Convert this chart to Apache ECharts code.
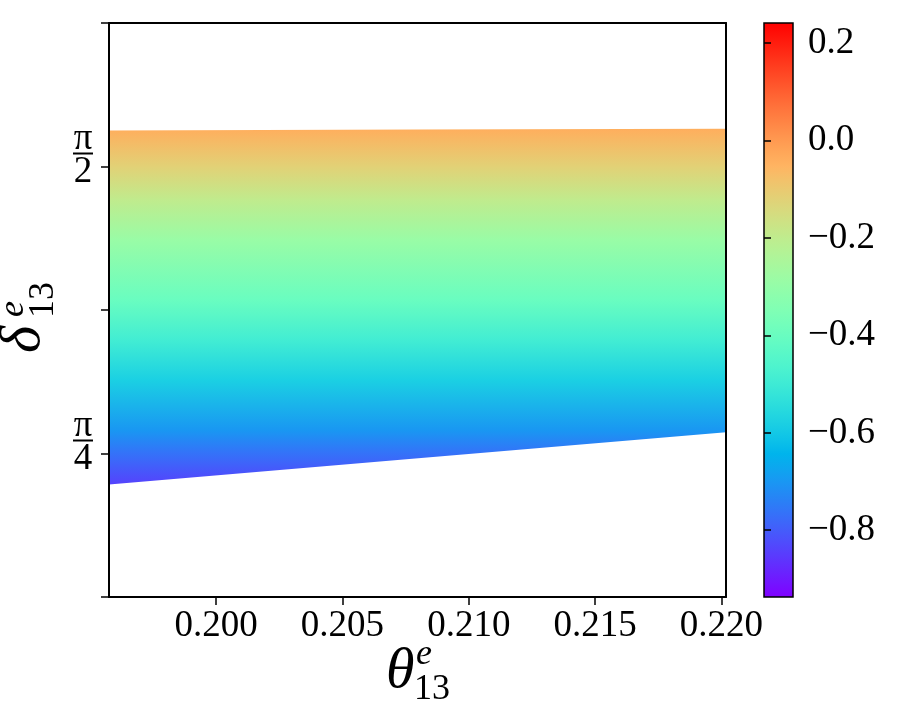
<!DOCTYPE html>
<html>
<head>
<meta charset="utf-8">
<script src="https://cdn.jsdelivr.net/npm/echarts@6/dist/echarts.min.js"></script>
<style>
  html, body { margin: 0; padding: 0; background: #fff; }
  #chart { width: 900px; height: 720px; }
</style>
</head>
<body>
<div id="chart"></div>
<script>
// region boundaries, delta in units of pi
const thetaEdge = [0.19576, 0.2080, 0.22018];
const deltaUpper = [0.5314, 0.5322, 0.5329];
const deltaLower = [0.2230, 0.2458, 0.2686];

// colour value read at several delta levels
const colourDelta = [0.5329, 0.5, 0.471, 0.4361, 0.3837, 0.3488, 0.314, 0.2703, 0.2511, 0.2223];
const colourValue = [-0.04, -0.12, -0.20, -0.29, -0.40, -0.49, -0.58, -0.70, -0.76, -0.84];

const xTicks = [0.200, 0.205, 0.210, 0.215, 0.220];
const yTicks = [0.125, 0.25, 0.375, 0.5, 0.625];
const cbTicks = [-0.8, -0.6, -0.4, -0.2, 0.0, 0.2];
const cbMin = -0.937;
const cbMax = 0.241;

const serif = '"Liberation Serif", "DejaVu Serif", serif';

// matplotlib "rainbow"
function rainbow(t) {
  t = Math.max(0, Math.min(1, t));
  const r = Math.min(1, Math.abs(2 * t - 0.5));
  const g = Math.sin(Math.PI * t);
  const b = Math.cos(Math.PI * t / 2);
  return 'rgb(' + Math.round(r * 255) + ',' + Math.round(g * 255) + ',' + Math.round(b * 255) + ')';
}

let chart = echarts.init(document.getElementById('chart'));

const axisFont = { fontFamily: serif, fontSize: 37, color: '#000' };

chart.setOption({
  animation: false,
  grid: [
    { left: 109, right: 174, top: 23, bottom: 123 },
    { left: 764, width: 29, top: 23, bottom: 123 }
  ],
  xAxis: [
    {
      gridIndex: 0, type: 'value', min: thetaEdge[0], max: thetaEdge[2], z: 10,
      axisLine: { lineStyle: { color: '#000', width: 2 } },
      axisTick: { customValues: xTicks, length: 8, lineStyle: { color: '#000', width: 1.5 } },
      axisLabel: Object.assign({ customValues: xTicks, margin: 11, formatter: v => v.toFixed(3) }, axisFont),
      splitLine: { show: false }
    },
    {
      gridIndex: 0, type: 'value', position: 'top', min: thetaEdge[0], max: thetaEdge[2], z: 10,
      axisLine: { lineStyle: { color: '#000', width: 2 } },
      axisTick: { show: false }, axisLabel: { show: false }, splitLine: { show: false }
    },
    { gridIndex: 1, type: 'value', min: 0, max: 1, show: false }
  ],
  yAxis: [
    {
      gridIndex: 0, type: 'value', min: yTicks[0], max: yTicks[4], interval: 0.125, z: 10,
      axisLine: { lineStyle: { color: '#000', width: 2 } },
      axisTick: { length: 8, lineStyle: { color: '#000', width: 1.5 } },
      axisLabel: {
        margin: 26, align: 'center', padding: [0, 0, 16, 0],
        formatter: function (v) {
          if (Math.abs(v - 0.5) < 1e-6) return '{n|π}\n{b| }\n{d|2}';
          if (Math.abs(v - 0.25) < 1e-6) return '{n|π}\n{b| }\n{d|4}';
          return '';
        },
        rich: {
          n: { fontFamily: serif, fontSize: 37, lineHeight: 22, color: '#000', align: 'center' },
          b: { width: 20, height: 2, lineHeight: 6, fontSize: 2, backgroundColor: '#000', align: 'center' },
          d: { fontFamily: serif, fontSize: 37, lineHeight: 32, color: '#000', align: 'center' }
        }
      },
      splitLine: { show: false }
    },
    {
      gridIndex: 0, type: 'value', position: 'right', min: yTicks[0], max: yTicks[4], z: 10,
      axisLine: { show: true, lineStyle: { color: '#000', width: 2 } },
      axisTick: { show: false }, axisLabel: { show: false }, splitLine: { show: false }
    },
    {
      gridIndex: 1, type: 'value', position: 'right', min: cbMin, max: cbMax, z: 10,
      axisLine: { show: false },
      axisTick: { show: true, customValues: cbTicks, length: 7, lineStyle: { color: '#000', width: 1.5 } },
      axisLabel: Object.assign({
        customValues: cbTicks, margin: 15,
        formatter: v => (v < -1e-9 ? '\u2212' : '') + Math.abs(v).toFixed(1)
      }, axisFont),
      splitLine: { show: false }
    }
  ],
  series: [
    {
      type: 'custom',
      xAxisIndex: 0, yAxisIndex: 0,
      data: [[thetaEdge[0], deltaUpper[0]]],
      renderItem: function (params, api) {
        const pts = [];
        for (let i = 0; i < thetaEdge.length; i++) pts.push(api.coord([thetaEdge[i], deltaUpper[i]]));
        for (let i = thetaEdge.length - 1; i >= 0; i--) pts.push(api.coord([thetaEdge[i], deltaLower[i]]));
        const ys = colourDelta.map(d => api.coord([thetaEdge[0], d])[1]);
        const y0 = ys[0], y1 = ys[ys.length - 1];
        const stops = colourDelta.map((d, i) => ({
          offset: (ys[i] - y0) / (y1 - y0),
          color: rainbow((colourValue[i] - cbMin) / (cbMax - cbMin))
        }));
        return {
          type: 'polygon',
          shape: { points: pts },
          style: { fill: new echarts.graphic.LinearGradient(0, y0, 0, y1, stops, true) }
        };
      }
    },
    {
      type: 'custom',
      xAxisIndex: 2, yAxisIndex: 2,
      data: [[0, cbMin]],
      renderItem: function (params, api) {
        const p0 = api.coord([0, cbMax]);
        const p1 = api.coord([1, cbMin]);
        const stops = [];
        for (let k = 0; k <= 40; k++) stops.push({ offset: k / 40, color: rainbow(1 - k / 40) });
        return {
          type: 'rect',
          shape: { x: p0[0], y: p0[1], width: p1[0] - p0[0], height: p1[1] - p0[1] },
          style: { fill: new echarts.graphic.LinearGradient(0, 0, 0, 1, stops), stroke: '#000', lineWidth: 1.5 }
        };
      }
    }
  ],
  graphic: [
    {
      type: 'group', x: 24, y: 353, rotation: Math.PI / 2,
      children: [
        { type: 'text', x: 0, y: 0, style: { text: 'δ', font: 'italic 58px ' + serif, fill: '#000', textAlign: 'left', textVerticalAlign: 'middle' } },
        { type: 'text', x: 36, y: -10, style: { text: 'e', font: 'italic 36px ' + serif, fill: '#000', textAlign: 'left', textVerticalAlign: 'middle' } },
        { type: 'text', x: 35, y: 20, style: { text: '13', font: '36px ' + serif, fill: '#000', textAlign: 'left', textVerticalAlign: 'middle' } }
      ]
    },
    { type: 'text', x: 386, y: 672, style: { text: 'θ', font: 'italic 58px ' + serif, fill: '#000', textAlign: 'left', textVerticalAlign: 'middle' } },
    { type: 'text', x: 416, y: 655, style: { text: 'e', font: 'italic 36px ' + serif, fill: '#000', textAlign: 'left', textVerticalAlign: 'middle' } },
    { type: 'text', x: 414, y: 690, style: { text: '13', font: '36px ' + serif, fill: '#000', textAlign: 'left', textVerticalAlign: 'middle' } }
  ]
});
</script>
</body>
</html>
